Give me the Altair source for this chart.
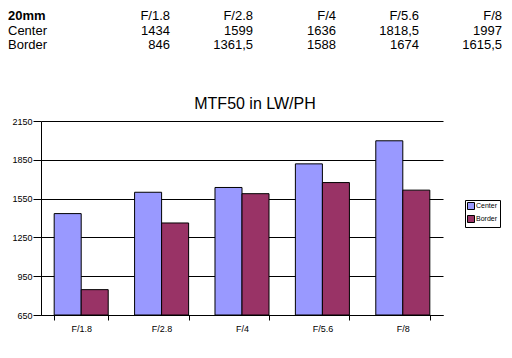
import altair as alt
import pandas as pd

fstops = ["F/1.8", "F/2.8", "F/4", "F/5.6", "F/8"]
center = [1434, 1599, 1636, 1818.5, 1997]
border = [846, 1361.5, 1588, 1674, 1615.5]
series = ["Center", "Border"]
colors = ["#9999FF", "#993366"]
yticks = [650, 950, 1250, 1550, 1850, 2150]
header = "20mm"
title = ["MTF50 in LW/PH"]

FONT = "Liberation Sans"


def fmt(v):
    s = f"{v:g}"
    return s.replace(".", ",")


rows = [header] + series
tab = []
for f, c, b in zip(fstops, center, border):
    tab.append({"row": header, "col": f, "txt": f})
    tab.append({"row": "Center", "col": f, "txt": fmt(c)})
    tab.append({"row": "Border", "col": f, "txt": fmt(b)})
tab_df = pd.DataFrame(tab)
lab_df = pd.DataFrame({"row": rows, "txt": rows, "bold": [True, False, False]})

# table sits above the plot area (negative y range, relative to plot top)
yrow = alt.Y("row:N", scale=alt.Scale(type="point", domain=rows, range=[-105, -76], padding=0), axis=None)
tx = dict(baseline="middle", fontSize=13, font=FONT, color="black")

vals = alt.Chart(tab_df).mark_text(align="right", **tx).encode(
    x=alt.X("col:N", scale=alt.Scale(type="point", domain=fstops, range=[129, 461], padding=0), axis=None),
    y=yrow,
    text="txt:N",
)
labs_b = alt.Chart(lab_df[lab_df.bold]).mark_text(align="left", fontWeight="bold", **tx).encode(
    x=alt.value(-33), y=yrow, text="txt:N")
labs_n = alt.Chart(lab_df[~lab_df.bold]).mark_text(align="left", **tx).encode(
    x=alt.value(-33), y=yrow, text="txt:N")

ttl = alt.Chart(pd.DataFrame({"t": title})).mark_text(
    align="center", baseline="middle", fontSize=16, font=FONT, color="black"
).encode(x=alt.value(214), y=alt.value(-17), text="t:N")

df = pd.DataFrame(
    [{"fstop": f, "series": "Center", "value": v} for f, v in zip(fstops, center)]
    + [{"fstop": f, "series": "Border", "value": v} for f, v in zip(fstops, border)]
)

bars = alt.Chart(df).mark_bar(stroke="black", strokeWidth=1).encode(
    x=alt.X("fstop:N", sort=fstops,
            scale=alt.Scale(paddingInner=0.328, paddingOuter=0.164),
            axis=alt.Axis(title=None, labelAngle=0, tickBand="extent", tickSize=5, labelFontSize=9,
                          labelFont=FONT, labelColor="black", domainColor="black", tickColor="black",
                          labelPadding=4, grid=False)),
    xOffset=alt.XOffset("series:N", sort=series),
    y=alt.Y("value:Q", scale=alt.Scale(domain=[yticks[0], yticks[-1]], zero=False, nice=False),
            axis=alt.Axis(title=None, values=yticks, format="d", tickSize=8, labelPadding=1, labelFontSize=9,
                          labelFont=FONT, labelColor="black", domainColor="black", tickColor="black",
                          gridColor="black", gridOpacity=1, gridWidth=1)),
    y2=alt.datum(yticks[0]),
    color=alt.Color("series:N", scale=alt.Scale(domain=series, range=colors),
                    legend=alt.Legend(title=None, orient="none", legendX=424, legendY=79,
                                      strokeColor="black", fillColor="white", padding=2,
                                      symbolType="square", symbolSize=49, symbolStrokeColor="black",
                                      symbolStrokeWidth=1, symbolOpacity=1, labelFontSize=7,
                                      labelFont=FONT, labelColor="black", rowPadding=1,
                                      labelOffset=1)),
)

chart = alt.layer(bars, labs_b, labs_n, vals, ttl).resolve_scale(
    x="independent", y="independent"
).properties(
    width=402, height=194,
    autosize=alt.AutoSizeParams(type="none"),
    padding={"left": 33, "right": 61, "top": 113, "bottom": 35},
).configure_view(stroke=None)

chart.save("out.html", embed_options={"renderer": "svg", "actions": False})
